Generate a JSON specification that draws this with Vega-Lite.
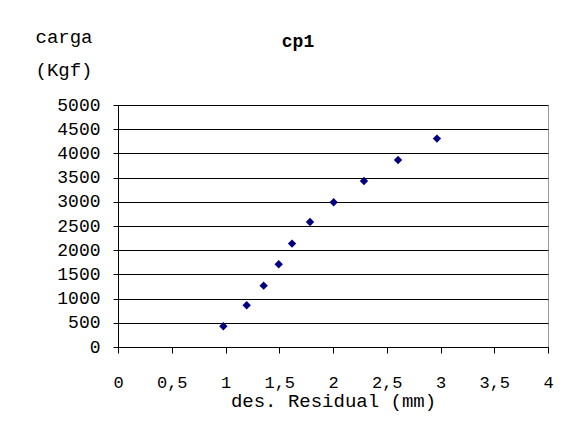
{
  "$schema": "https://vega.github.io/schema/vega-lite/v6.json",
  "width": 430,
  "height": 242,
  "autosize": {"type": "none"},
  "padding": {"left": 118, "top": 105, "right": 38, "bottom": 77},
  "background": "white",
  "config": {
    "locale": {"number": {"decimal": ",", "thousands": "", "grouping": [3], "currency": ["", ""]}},
    "font": "Liberation Mono",
    "view": {"stroke": "#999999", "strokeWidth": 1}
  },
  "title": {
    "text": "cp1",
    "font": "Liberation Mono",
    "fontSize": 18,
    "fontWeight": "bold",
    "color": "black",
    "anchor": "middle",
    "baseline": "alphabetic",
    "dx": -35,
    "offset": -38
  },
  "data": {
    "values": [
      {"des": 0.98, "carga": 428},
      {"des": 1.197, "carga": 862},
      {"des": 1.355, "carga": 1268},
      {"des": 1.495, "carga": 1709},
      {"des": 1.619, "carga": 2136},
      {"des": 1.786, "carga": 2583},
      {"des": 2.006, "carga": 2990},
      {"des": 2.288, "carga": 3430},
      {"des": 2.605, "carga": 3864},
      {"des": 2.967, "carga": 4306}
    ]
  },
  "mark": {"type": "point", "shape": "diamond", "filled": true, "color": "#000080", "opacity": 1, "size": 70},
  "encoding": {
    "x": {
      "field": "des",
      "type": "quantitative",
      "scale": {"domain": [0, 4], "nice": false},
      "axis": {
        "values": [0, 0.5, 1, 1.5, 2, 2.5, 3, 3.5, 4],
        "format": "~g",
        "grid": false,
        "domainColor": "black",
        "tickColor": "black",
        "tickSize": 6,
        "labelPadding": 21,
        "labelFont": "Liberation Mono",
        "labelFontSize": 17,
        "labelColor": "black",
        "labelFlush": false,
        "labelOverlap": false,
        "title": "des. Residual (mm)",
        "titleFont": "Liberation Mono",
        "titleFontSize": 19,
        "titleFontWeight": "normal",
        "titleColor": "black",
        "titlePadding": 1
      }
    },
    "y": {
      "field": "carga",
      "type": "quantitative",
      "scale": {"domain": [0, 5000], "nice": false},
      "axis": {
        "values": [0, 500, 1000, 1500, 2000, 2500, 3000, 3500, 4000, 4500, 5000],
        "grid": true,
        "gridColor": "black",
        "gridOpacity": 1,
        "gridWidth": 1,
        "domainColor": "black",
        "tickColor": "black",
        "tickSize": 5,
        "labelPadding": 13,
        "labelFont": "Liberation Mono",
        "labelFontSize": 18,
        "labelColor": "black",
        "labelFlush": false,
        "labelOverlap": false,
        "title": ["carga", "(Kgf)"],
        "titleFont": "Liberation Mono",
        "titleFontSize": 19,
        "titleFontWeight": "normal",
        "titleColor": "black",
        "titleAngle": 0,
        "titleAlign": "left",
        "titleBaseline": "alphabetic",
        "titleLineHeight": 33,
        "titleX": -83,
        "titleY": -63
      }
    }
  }
}
